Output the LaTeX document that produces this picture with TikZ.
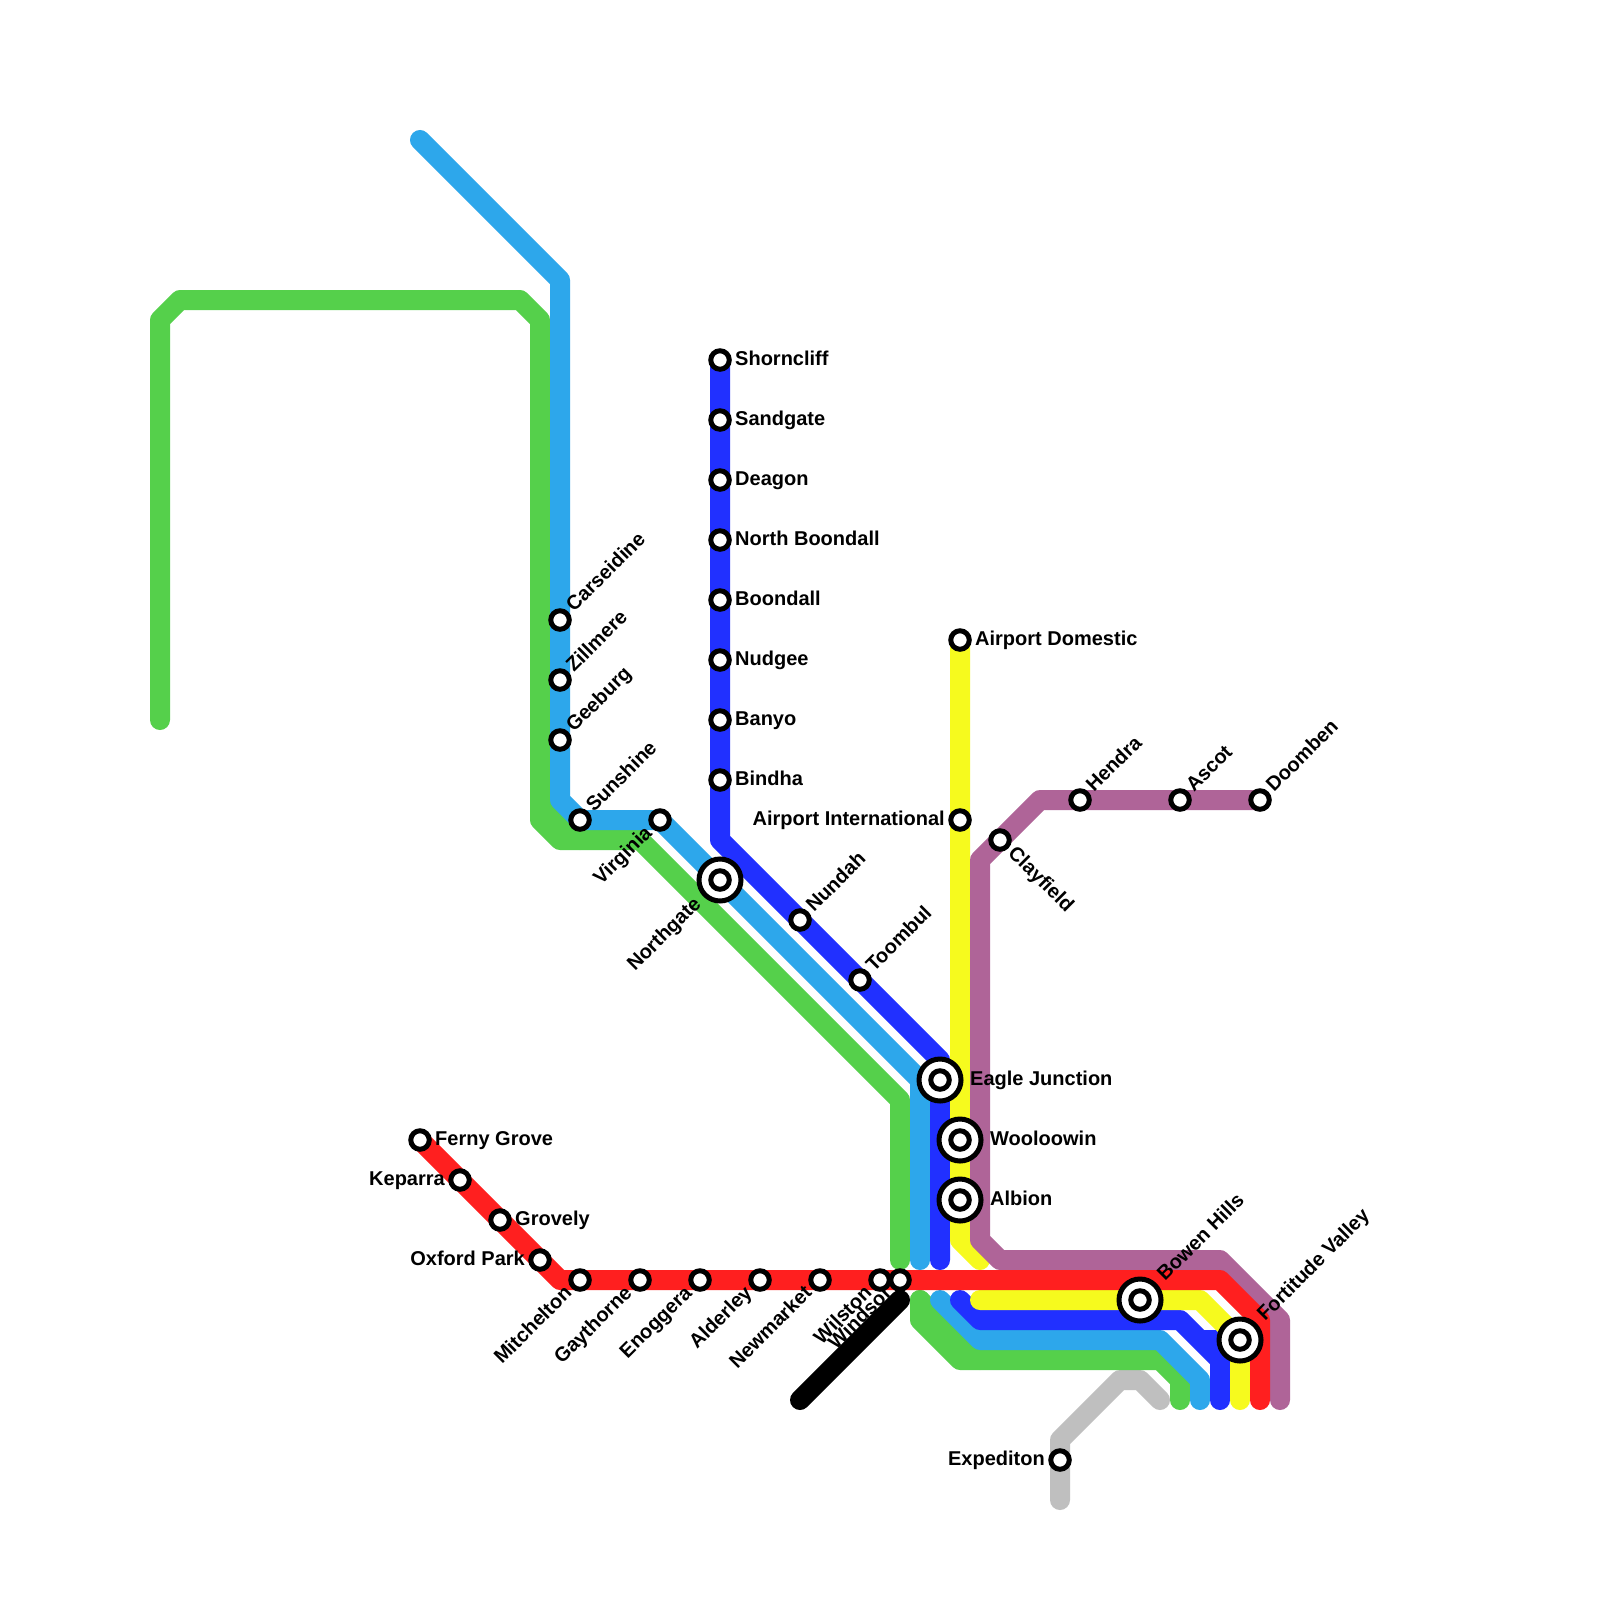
\documentclass[tikz,border=0pt]{standalone}
\usepackage{fontspec}
\setmainfont{Liberation Sans}
\definecolor{cgreen}{HTML}{55D04B}
\definecolor{csky}{HTML}{2DA7EB}
\definecolor{cblue}{HTML}{2130FF}
\definecolor{cyel}{HTML}{F6FA1E}
\definecolor{cred}{HTML}{FF1F1F}
\definecolor{cpur}{HTML}{AF6498}
\definecolor{cgray}{HTML}{BFBFBF}
\tikzset{
  rail/.style={line width=20pt,line cap=round,line join=round},
  stn/.style={circle,draw=black,fill=white,line width=5pt,minimum size=18.5pt,inner sep=0pt,outer sep=0pt},
  bigstn/.style={circle,draw=black,fill=white,line width=5pt,minimum size=42pt,inner sep=0pt,outer sep=0pt},
  lab/.style={font=\bfseries\fontsize{20pt}{22pt}\selectfont,inner sep=0pt,text=black},
  lr/.style={lab,anchor=base west},
  ll/.style={lab,anchor=base east},
  ur/.style={lab,anchor=base west,rotate=45},
  dl/.style={lab,anchor=base east,rotate=45},
  dr/.style={lab,anchor=base west,rotate=-45},
}
\newcommand{\smallst}[3]{\node[stn] (#1) at (#2,#3) {};}
\newcommand{\largest}[3]{\node[bigstn] (#1) at (#2,#3) {};\node[stn] (#1i) at (#2,#3) {};}
\begin{document}
\begin{tikzpicture}[x=1pt,y=-1pt]
\useasboundingbox (0,0) rectangle (1600,1600);
\fill[white] (0,0) rectangle (1600,1600);
% gray
\draw[rail,cgray] (1060,1500)--(1060,1440)--(1120,1380)--(1140,1380)--(1160,1400);
% green
\draw[rail,cgreen] (160,720)--(160,320)--(180,300)--(520,300)--(540,320)--(540,820)--(560,840)--(640,840)--(900,1100)--(900,1260);
\draw[rail,cgreen] (540,800)--(580,840);
\draw[rail,cgreen] (920,1300)--(920,1320)--(960,1360)--(1160,1360)--(1180,1380)--(1180,1400);
\draw[rail,cgreen] (920,1300)--(980,1360);
% sky
\draw[rail,csky] (420,140)--(560,280)--(560,800)--(580,820)--(660,820)--(920,1080)--(920,1260);
\draw[rail,csky] (940,1300)--(980,1340)--(1160,1340)--(1200,1380)--(1200,1400);
% blue
\draw[rail,cblue] (720,360)--(720,840)--(940,1060)--(940,1260);
\draw[rail,cblue] (960,1300)--(980,1320)--(1180,1320)--(1220,1360)--(1220,1400);
\draw[rail,cblue,line cap=butt] (1200,1340)--(1220,1340);
% yellow
\draw[rail,cyel] (960,640)--(960,1240)--(980,1260);
\draw[rail,cyel] (980,1300)--(1200,1300)--(1240,1340)--(1240,1400);
% purple
\draw[rail,cpur] (1260,800)--(1040,800)--(980,860)--(980,1240)--(1000,1260)--(1220,1260)--(1280,1320)--(1280,1400);
% red
\draw[rail,cred] (420,1140)--(560,1280)--(1220,1280)--(1260,1320)--(1260,1400);
% black
\draw[rail,black] (800,1400)--(900,1300);
% stations
\smallst{shorn}{720}{360}\node[lr] at (735,365) {Shorncliff};
\smallst{sandg}{720}{420}\node[lr] at (735,425) {Sandgate};
\smallst{deago}{720}{480}\node[lr] at (735,485) {Deagon};
\smallst{nboon}{720}{540}\node[lr] at (735,545) {North Boondall};
\smallst{boond}{720}{600}\node[lr] at (735,605) {Boondall};
\smallst{nudge}{720}{660}\node[lr] at (735,665) {Nudgee};
\smallst{banyo}{720}{720}\node[lr] at (735,725) {Banyo};
\smallst{bindh}{720}{780}\node[lr] at (735,785) {Bindha};
\smallst{adom}{960}{640}\node[lr] at (975,645) {Airport Domestic};
\smallst{aint}{960}{820}\node[ll] at (945,825) {Airport International};
\smallst{clay}{1000}{840}\node[dr] at (1007,854) {Clayfield};
\smallst{nunda}{800}{920}\node[ur] at (814,913) {Nundah};
\smallst{toomb}{860}{980}\node[ur] at (874,973) {Toombul};
\largest{north}{720}{880}\node[dl] at (702,905) {Northgate};
\largest{eagle}{940}{1080}\node[lr] at (970,1085) {Eagle Junction};
\largest{wool}{960}{1140}\node[lr] at (990,1145) {Wooloowin};
\largest{albi}{960}{1200}\node[lr] at (990,1205) {Albion};
\largest{bowen}{1140}{1300}\node[ur] at (1165,1282) {Bowen Hills};
\largest{forti}{1240}{1340}\node[ur] at (1265,1322) {Fortitude Valley};
\smallst{hendr}{1080}{800}\node[ur] at (1094,793) {Hendra};
\smallst{ascot}{1180}{800}\node[ur] at (1194,793) {Ascot};
\smallst{doomb}{1260}{800}\node[ur] at (1274,793) {Doomben};
\smallst{carse}{560}{620}\node[ur] at (574,613) {Carseidine};
\smallst{zillm}{560}{680}\node[ur] at (574,673) {Zillmere};
\smallst{geebu}{560}{740}\node[ur] at (574,733) {Geeburg};
\smallst{sunsh}{580}{820}\node[ur] at (594,813) {Sunshine};
\smallst{virgi}{660}{820}\node[dl] at (653,834) {Virginia};
\smallst{ferny}{420}{1140}\node[lr] at (435,1145) {Ferny Grove};
\smallst{kepar}{460}{1180}\node[ll] at (445,1185) {Keparra};
\smallst{grove}{500}{1220}\node[lr] at (515,1225) {Grovely};
\smallst{oxfor}{540}{1260}\node[ll] at (525,1265) {Oxford Park};
\smallst{mitch}{580}{1280}\node[dl] at (573,1294) {Mitchelton};
\smallst{gayth}{640}{1280}\node[dl] at (633,1294) {Gaythorne};
\smallst{enogg}{700}{1280}\node[dl] at (693,1294) {Enoggera};
\smallst{alder}{760}{1280}\node[dl] at (753,1294) {Alderley};
\smallst{newma}{820}{1280}\node[dl] at (813,1294) {Newmarket};
\smallst{wilst}{880}{1280}\node[dl] at (873,1294) {Wilston};
\smallst{winds}{900}{1280}\node[dl] at (893,1294) {Windsor};
\smallst{exped}{1060}{1460}\node[ll] at (1045,1465) {Expediton};
\end{tikzpicture}
\end{document}
